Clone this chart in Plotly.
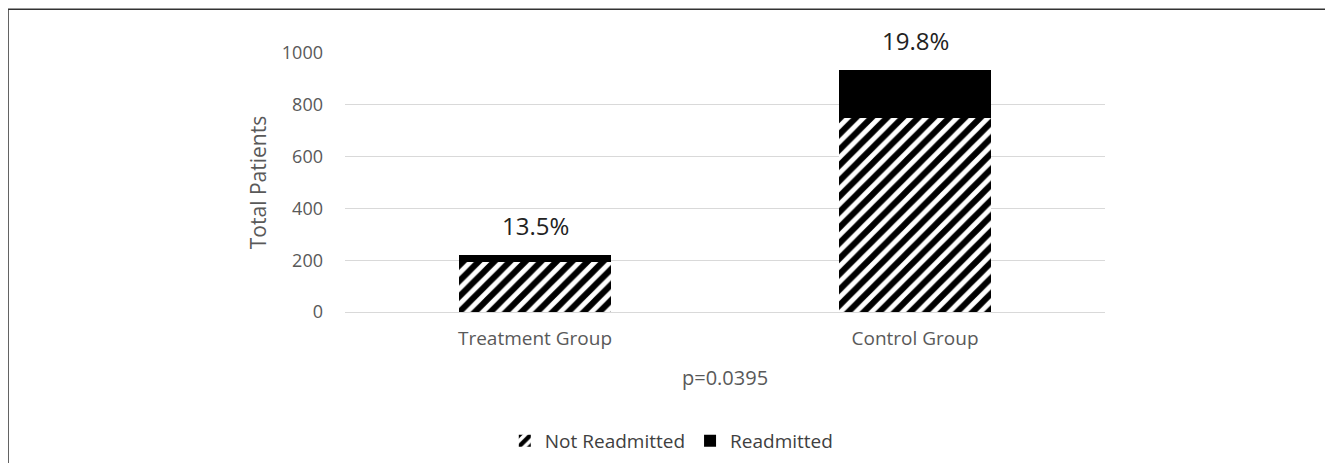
import plotly.graph_objects as go

categories = ["Treatment Group", "Control Group"]
not_readmitted = [192, 750]
readmitted = [30, 185]
pct_labels = ["13.5%", "19.8%"]
y_ticks = [0, 200, 400, 600, 800, 1000]

FONT = "Open Sans, sans-serif"
GRAY = "#595959"

fig = go.Figure()
fig.add_trace(go.Bar(
    x=categories, y=not_readmitted, name="Not Readmitted",
    marker=dict(color="white", line=dict(width=0),
                pattern=dict(shape="/", fgcolor="black", bgcolor="white", fgopacity=1,
                             size=11, solidity=0.55)),
    width=0.4,
))
fig.add_trace(go.Bar(
    x=categories, y=readmitted, name="Readmitted",
    marker=dict(color="black", line=dict(width=0)),
    width=0.4,
))

totals = [a + b for a, b in zip(not_readmitted, readmitted)]
for c, t, lab in zip(categories, totals, pct_labels):
    fig.add_annotation(x=c, y=t, text=lab, showarrow=False, yanchor="bottom", yshift=11,
                       font=dict(family=FONT, size=24, color="#222222"))

fig.add_annotation(x=0.5, y=-0.254, xref="paper", yref="paper", text="p=0.0395",
                   yanchor="middle", showarrow=False, font=dict(family=FONT, size=20, color=GRAY))

# outer frame (top and left edges)
fig.add_shape(type="line", xref="paper", yref="paper", x0=-0.4434, x1=1.4, y0=1.169, y1=1.169,
              line=dict(color="#333333", width=1.5))
fig.add_shape(type="line", xref="paper", yref="paper", x0=-0.4434, x1=-0.4434, y0=1.169, y1=-0.7,
              line=dict(color="#333333", width=1.5))

fig.update_layout(
    barmode="stack",
    width=1333, height=463,
    margin=dict(l=337, r=236, t=45, b=158),
    paper_bgcolor="white", plot_bgcolor="white",
    font=dict(family=FONT, size=16, color=GRAY),
    showlegend=True,
    legend=dict(orientation="h", x=0.43, xanchor="center", y=-0.492, yanchor="middle",
                traceorder="normal",
                font=dict(family=FONT, size=19, color="#404040"), itemwidth=30),
    xaxis=dict(showgrid=False, showline=True, linecolor="#d9d9d9", linewidth=1,
               automargin=False, ticklabelstandoff=9,
               tickfont=dict(family=FONT, size=19, color=GRAY), ticks=""),
    yaxis=dict(range=[0, 1000], tickvals=y_ticks, showgrid=True, gridcolor="#d9d9d9",
               zeroline=False, ticks="", ticklen=0, automargin=False, ticklabelstandoff=21,
               tickfont=dict(family=FONT, size=18, color=GRAY),
               title=dict(text="Total Patients", font=dict(family=FONT, size=21, color=GRAY), standoff=9)),
    bargap=0.6,
)

fig.write_html("out.html")
